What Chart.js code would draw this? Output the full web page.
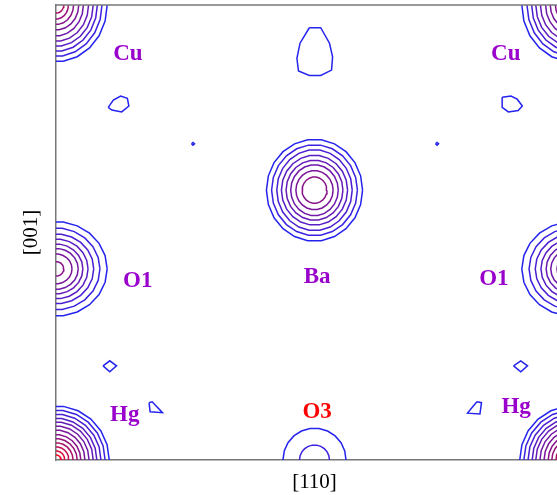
<!DOCTYPE html>
<html>
<head>
<meta charset="utf-8">
<script src="https://cdn.jsdelivr.net/npm/chart.js@4/dist/chart.umd.min.js"></script>
<style>
  html, body { margin: 0; padding: 0; background: #fff; overflow: hidden; }
  #box { width: 573px; height: 495px; }
</style>
</head>
<body>
<div id="box"><canvas id="map" width="573" height="495"></canvas></div>
<script>
// Cell coordinates: x along [110] (0..1), y along [001] (0..1)

// Atom-centred contour sets: centre positions and contour half-widths per level (outer -> inner)
const cuCentres = [[0, 1], [1, 1]];
const cuRx = [0.099, 0.089, 0.080, 0.072, 0.063, 0.053, 0.044, 0.034, 0.024, 0.015];
const cuRy = [0.125, 0.113, 0.102, 0.091, 0.080, 0.068, 0.055, 0.043, 0.031, 0.018];

const hgCentres = [[0, 0], [1, 0]];
const hgRx = [0.103, 0.095, 0.087, 0.079, 0.072, 0.064, 0.056, 0.048, 0.041, 0.033, 0.025, 0.017, 0.010];
const hgRy = [0.119, 0.110, 0.101, 0.092, 0.084, 0.075, 0.066, 0.056, 0.047, 0.038, 0.029, 0.020, 0.011];

const o1Centres = [[0, 0.420], [1, 0.420]];
const o1Rx = [0.099, 0.085, 0.073, 0.062, 0.052, 0.043, 0.031, 0.015];
const o1Ry = [0.104, 0.090, 0.077, 0.066, 0.055, 0.045, 0.033, 0.016];

const baCentres = [[0.5, 0.593]];
const baRx = [0.093, 0.083, 0.073, 0.064, 0.055, 0.046, 0.036, 0.024];
const baRy = [0.112, 0.100, 0.089, 0.077, 0.066, 0.056, 0.043, 0.029];

const o3Centres = [[0.5, 0]];
const o3Rx = [0.061, 0.029];
const o3Ry = [0.070, 0.033];

// Small lowest-level islands, traced outlines
const eggTop = [[0.490, 0.950], [0.512, 0.950], [0.529, 0.916], [0.535, 0.886], [0.533, 0.857],
  [0.512, 0.845], [0.490, 0.845], [0.469, 0.855], [0.466, 0.883], [0.472, 0.916], [0.490, 0.950]];
const blobLeft = [[0.101, 0.775], [0.111, 0.791], [0.125, 0.800], [0.138, 0.795], [0.141, 0.778],
  [0.127, 0.765], [0.108, 0.769], [0.101, 0.775]];
const blobRight = [[0.863, 0.797], [0.880, 0.800], [0.892, 0.793], [0.902, 0.778], [0.894, 0.768],
  [0.875, 0.765], [0.863, 0.775], [0.863, 0.797]];
const dotLeft = [[0.262, 0.695], [0.265, 0.698], [0.268, 0.695], [0.265, 0.692], [0.262, 0.695]];
const dotRight = [[0.734, 0.695], [0.737, 0.698], [0.740, 0.695], [0.737, 0.692], [0.734, 0.695]];
const diamondLeft = [[0.091, 0.207], [0.104, 0.218], [0.117, 0.207], [0.104, 0.194], [0.091, 0.207]];
const diamondRight = [[0.885, 0.207], [0.899, 0.218], [0.912, 0.207], [0.899, 0.194], [0.885, 0.207]];
const triLeft = [[0.180, 0.126], [0.186, 0.128], [0.206, 0.104], [0.182, 0.106], [0.180, 0.126]];
const triRight = [[0.814, 0.128], [0.823, 0.126], [0.820, 0.101], [0.796, 0.103], [0.814, 0.128]];

// Atom labels
const labelText = ["Cu", "Cu", "O1", "O1", "Ba", "O3", "Hg", "Hg"];
const labelX = [0.139, 0.870, 0.158, 0.847, 0.505, 0.505, 0.133, 0.890];
const labelY = [0.893, 0.893, 0.394, 0.398, 0.402, 0.105, 0.098, 0.117];

// contour level colours, level 1 (lowest) .. 13 (highest)
const levelColors = ["#2424ee", "#3a22e0", "#4a1ed2", "#581cc4", "#661ab6", "#7018a8", "#7a169a",
  "#88148a", "#98127a", "#ac1068", "#c40c54", "#de083e", "#f40020"];
const labelColors = ["#9900cc", "#9900cc", "#9900cc", "#9900cc", "#9900cc", "#ff0000", "#9900cc", "#9900cc"];

const SEGMENTS = 22;

function ring(cx, cy, rx, ry) {
  const pts = [];
  for (let k = 0; k <= SEGMENTS; k++) {
    const a = (k / SEGMENTS) * Math.PI * 2;
    pts.push({ x: cx + rx * Math.cos(a), y: cy + ry * Math.sin(a) });
  }
  return pts;
}

const datasets = [];

function addSet(centres, rxs, rys) {
  for (const [cx, cy] of centres) {
    rxs.forEach((rx, i) => {
      datasets.push({
        data: ring(cx, cy, rx, rys[i]),
        borderColor: levelColors[i],
      });
    });
  }
}

addSet(cuCentres, cuRx, cuRy);
addSet(hgCentres, hgRx, hgRy);
addSet(o1Centres, o1Rx, o1Ry);
addSet(baCentres, baRx, baRy);
addSet(o3Centres, o3Rx, o3Ry);

for (const poly of [eggTop, blobLeft, blobRight, dotLeft, dotRight, diamondLeft, diamondRight, triLeft, triRight]) {
  datasets.push({
    data: poly.map(([x, y]) => ({ x, y })),
    borderColor: levelColors[0],
  });
}

const labelPlugin = {
  id: "atomLabels",
  afterDatasetsDraw(chart) {
    const { ctx, chartArea, scales } = chart;
    ctx.save();
    // top frame line
    ctx.strokeStyle = "#777";
    ctx.lineWidth = 1.5;
    ctx.beginPath();
    ctx.moveTo(chartArea.left, chartArea.top);
    ctx.lineTo(chartArea.right, chartArea.top);
    ctx.stroke();

    ctx.font = "bold 23px 'Liberation Serif', 'Times New Roman', serif";
    ctx.textAlign = "center";
    ctx.textBaseline = "middle";
    labelText.forEach((t, i) => {
      ctx.fillStyle = labelColors[i];
      ctx.fillText(t, scales.x.getPixelForValue(labelX[i]), scales.y.getPixelForValue(labelY[i]));
    });
    ctx.restore();
  },
};

new Chart(document.getElementById("map"), {
  type: "scatter",
  data: { datasets },
  options: {
    responsive: false,
    animation: false,
    showLine: true,
    layout: { padding: { top: 5, right: 0, bottom: 0, left: 0 } },
    elements: {
      point: { radius: 0, hoverRadius: 0 },
      line: { borderWidth: 1.5, tension: 0, fill: false },
    },
    plugins: {
      legend: { display: false },
      tooltip: { enabled: false },
    },
    scales: {
      x: {
        type: "linear",
        min: 0,
        max: 1,
        grid: { display: false },
        border: { color: "#777", width: 1.5 },
        ticks: { display: false },
        title: {
          display: true,
          text: "[110]",
          color: "#000",
          font: { family: "'Liberation Serif', serif", size: 21 },
          padding: { top: 0, bottom: 0 },
        },
        afterFit(scale) { scale.height = 35; },
      },
      y: {
        type: "linear",
        min: 0,
        max: 1,
        grid: { display: false },
        border: { color: "#777", width: 1.5 },
        ticks: { display: false },
        title: {
          display: true,
          text: "[001]",
          color: "#000",
          font: { family: "'Liberation Serif', serif", size: 21 },
          padding: { top: 19, bottom: 0 },
        },
        afterFit(scale) { scale.width = 56; },
      },
    },
  },
  plugins: [labelPlugin],
});
</script>
</body>
</html>
